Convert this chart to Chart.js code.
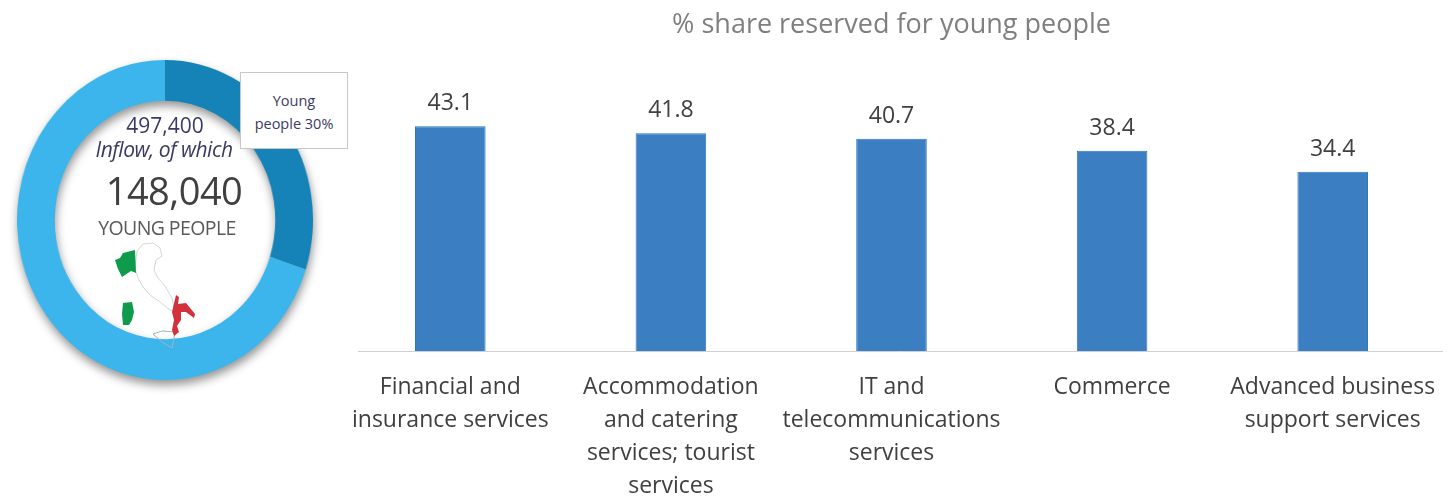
<!DOCTYPE html>
<html>
<head>
<meta charset="utf-8">
<script src="https://cdn.jsdelivr.net/npm/chart.js@4"></script>
<style>
  html, body { margin: 0; padding: 0; background: #fff; overflow: hidden; }
  #page { position: relative; width: 1453px; height: 496px; overflow: hidden; font-family: "Open Sans", sans-serif; }
  #barWrap { position: absolute; left: 0; top: 0; width: 1453px; height: 515px; }
  #donutWrap {
    position: absolute; left: 5px; top: 60px; width: 320px; height: 320px;
    transform: scaleX(0.925); transform-origin: center;
    filter: drop-shadow(1px 5px 5px rgba(0,0,0,0.42));
  }
  .txt { position: absolute; white-space: nowrap; transform: translateX(-50%); }
  #callout {
    position: absolute; left: 240px; top: 72px; width: 108px; height: 77px; box-sizing: border-box;
    background: #fff; border: 1px solid #c8c8c8; color: #3b3a63; font-size: 14.5px; line-height: 23px;
    text-align: center; padding-top: 16px; white-space: nowrap;
  }
  #map { position: absolute; left: 110px; top: 240px; }
</style>
</head>
<body>
<div id="page">
  <div id="barWrap"><canvas id="barChart" width="1453" height="515"></canvas></div>
  <div id="donutWrap"><canvas id="donutChart" width="320" height="320"></canvas></div>
  <div class="txt" style="left:165px;top:111px;font-size:21px;color:#3b3a63">497,400</div>
  <div class="txt" style="left:164px;top:135px;font-size:21px;font-style:italic;color:#3b3a63;letter-spacing:-0.5px">Inflow, of which</div>
  <div class="txt" style="left:174px;top:164px;font-size:38px;color:#404040;letter-spacing:-0.5px">148,040</div>
  <div class="txt" style="left:167px;top:214px;font-size:19.5px;color:#595959;letter-spacing:-0.6px">YOUNG PEOPLE</div>
  <svg id="map" width="90" height="112" viewBox="0 0 90 112">
    <path d="M27 11 L33 4 L43 3 L50 8 L52 16 L46 20 L44 30 L48 38 L55 46 L62 58 L65 72 L60 70 L50 62 L40 55 L33 47 L28 38 L25 28 Z" fill="#fff" stroke="#d5d5d5" stroke-width="1"/>
    <path d="M43 94 L52 91 L65 92 L64 98 L62 108 L52 102 Z" fill="none" stroke="#9fb4c0" stroke-width="1"/>
    <path d="M5 20 L10 18 L13 13 L25 10 L26 33 L21 31 L12 37 L8 29 Z" fill="#0f9b4c"/>
    <path d="M66 55 L69 57 L68 64 L76 63 L85 74 L84 78 L76 72 L71 72 L71 80 L67 86 L69 92 L64 96 L62 90 L64 80 L62 72 Z" fill="#d2323c"/>
    <path d="M13 63 L22 62 L24 72 L22 80 L19 85 L13 85 L12 74 Z" fill="#0f9b4c"/>
  </svg>
  <div id="callout">Young<br>people 30%</div>
</div>
<script>
const categories = [
  ["Financial and", "insurance services"],
  ["Accommodation", "and catering", "services; tourist", "services"],
  ["IT and", "telecommunications", "services"],
  ["Commerce"],
  ["Advanced business", "support services"]
];
const shareValues = [43.1, 41.8, 40.7, 38.4, 34.4];

const donutLabels = ["Young people", "Others"];
const donutValues = [30, 70];

// value above each bar + baseline that starts a bit right of the first category
const barExtras = {
  id: "barExtras",
  afterDatasetsDraw(chart) {
    const ctx = chart.ctx;
    const y0 = chart.scales.y.getPixelForValue(0);
    ctx.save();
    ctx.strokeStyle = "#d0d0d0";
    ctx.lineWidth = 1;
    ctx.beginPath();
    ctx.moveTo(chart.chartArea.left + 18, y0 + 0.5);
    ctx.lineTo(chart.chartArea.right, y0 + 0.5);
    ctx.stroke();
    ctx.fillStyle = "#404040";
    ctx.font = '23px "Open Sans"';
    ctx.textAlign = "center";
    ctx.textBaseline = "bottom";
    chart.getDatasetMeta(0).data.forEach((bar, i) => {
      ctx.fillText(shareValues[i].toFixed(1), bar.x, bar.y - 11);
    });
    ctx.restore();
  }
};

new Chart(document.getElementById("barChart"), {
  type: "bar",
  data: {
    labels: categories,
    datasets: [{
      data: shareValues,
      backgroundColor: "#3b7fc2",
      borderColor: "#2e78c0",
      borderWidth: 1,
      categoryPercentage: 1,
      barPercentage: 0.32
    }]
  },
  options: {
    responsive: false,
    animation: false,
    layout: { padding: { left: 340, right: 10, top: 0, bottom: 0 } },
    plugins: {
      legend: { display: false },
      tooltip: { enabled: false },
      title: {
        display: true,
        text: "% share reserved for young people",
        color: "#7f7f7f",
        font: { family: "Open Sans", size: 27, weight: "normal" },
        padding: { top: 9, bottom: 49 },
        align: "center"
      }
    },
    scales: {
      x: {
        grid: { display: false },
        border: { display: false },
        ticks: {
          color: "#404040",
          font: { family: "Open Sans", size: 23, lineHeight: 33 / 23 },
          maxRotation: 0,
          autoSkip: false,
          padding: 12
        }
      },
      y: { display: false, min: 0, max: 50 }
    }
  },
  plugins: [barExtras]
});

new Chart(document.getElementById("donutChart"), {
  type: "doughnut",
  data: {
    labels: donutLabels,
    datasets: [{
      data: donutValues,
      backgroundColor: ["#1583b7", "#3bb5ec"],
      borderWidth: 0
    }]
  },
  options: {
    responsive: false,
    animation: false,
    cutout: "74.5%",
    plugins: { legend: { display: false }, tooltip: { enabled: false } }
  }
});
</script>
</body>
</html>
